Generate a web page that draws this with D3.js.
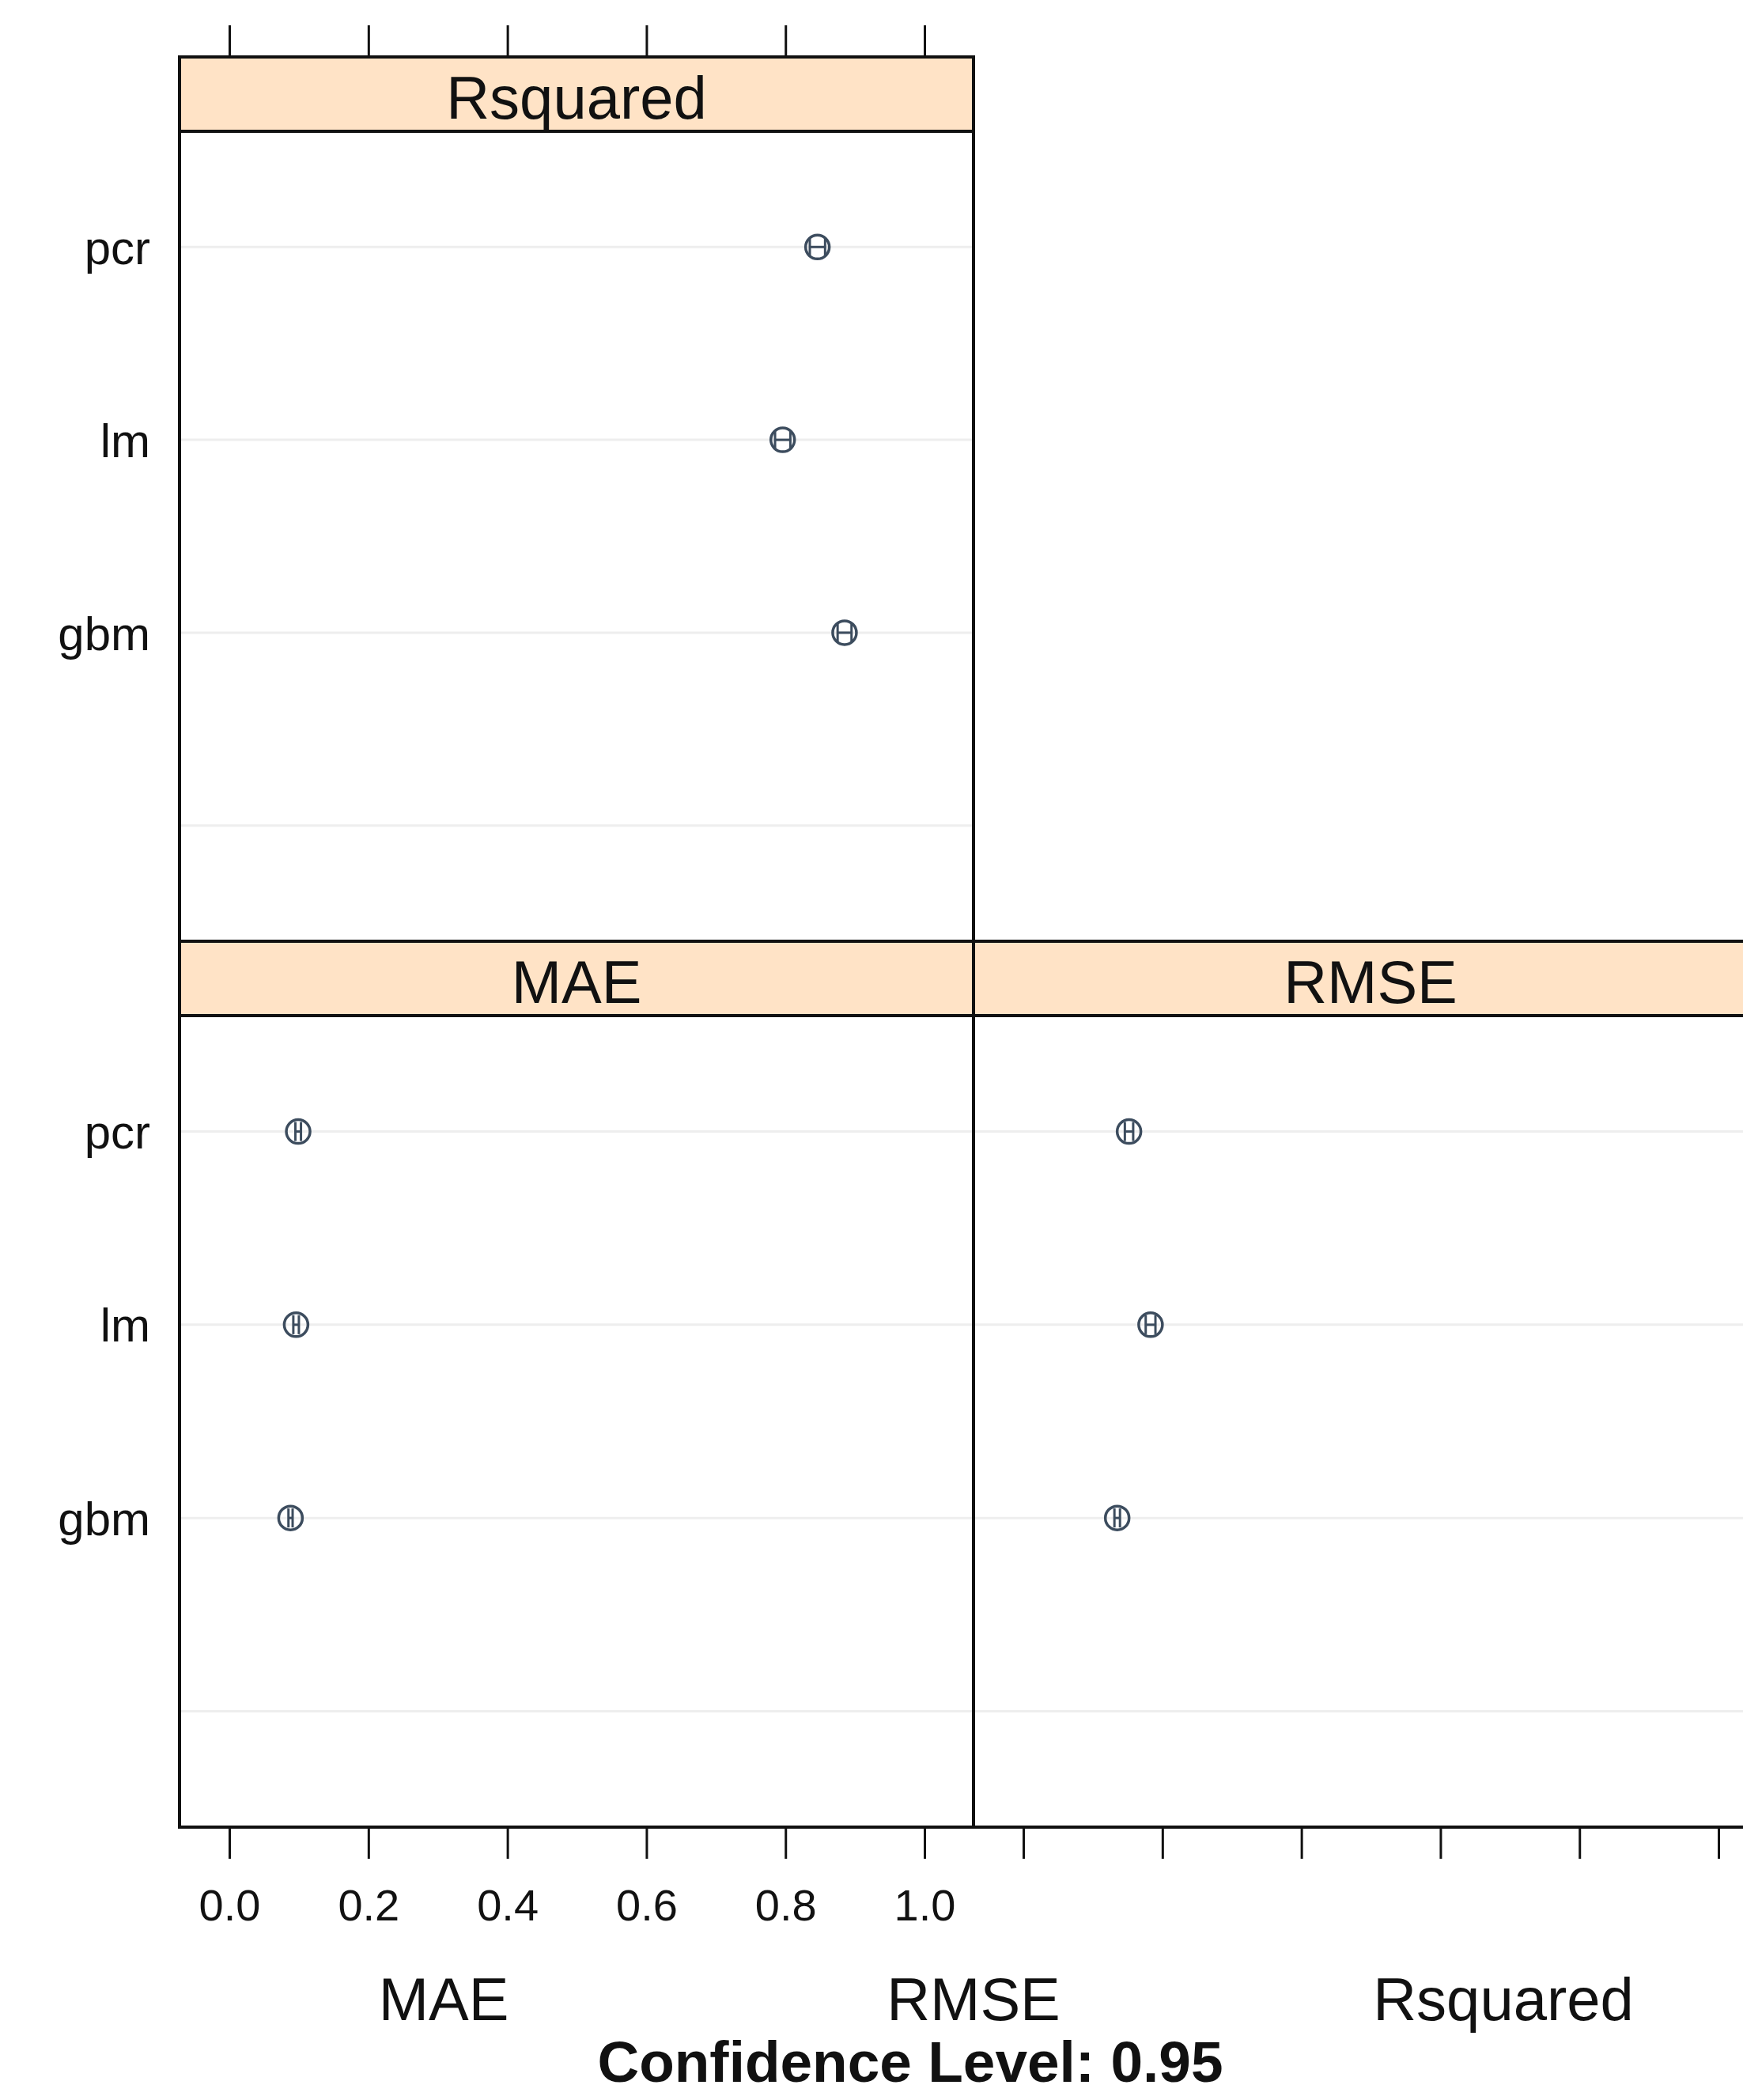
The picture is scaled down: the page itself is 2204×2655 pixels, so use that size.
<!DOCTYPE html>
<html>
<head>
<meta charset="utf-8">
<script src="https://cdn.jsdelivr.net/npm/d3@7"></script>
<style>
  html, body { margin: 0; padding: 0; background: #fff; }
  text { font-family: "Liberation Sans", Arial, Helvetica, sans-serif; fill: #111; }
</style>
</head>
<body>
<svg id="chart"></svg>
<script>
// data (median + 95% interval)
const models = ["gbm", "lm", "pcr"];
const yLevels = ["", "gbm", "lm", "pcr"]; // lowest level is empty in the original
const metricNames = ["MAE", "RMSE", "Rsquared"];
const xTicks = [0.0, 0.2, 0.4, 0.6, 0.8, 1.0];

const maeMid = [0.088, 0.096, 0.099];
const maeLow = [0.085, 0.092, 0.095];
const maeHigh = [0.091, 0.100, 0.103];

const rmseMid = [0.135, 0.183, 0.152];
const rmseLow = [0.131, 0.176, 0.146];
const rmseHigh = [0.139, 0.190, 0.158];

const rsqMid = [0.885, 0.796, 0.846];
const rsqLow = [0.875, 0.785, 0.835];
const rsqHigh = [0.895, 0.807, 0.857];

const W = 2204, H = 2655;
const ink = '#111';
const symCol = '#3c4c5e';

const svg = d3.select('#chart')
  .attr('width', W)
  .attr('height', H)
  .style('display', 'block');

// panel geometry (lattice 2x2, top-right empty)
const colX = [227, 1231];
const panelW = 1004;
const stripH = 94;
const rows = [{ top: 72, bottom: 1190 }, { top: 1190, bottom: 2310 }];

const panels = [
  { name: 'Rsquared', col: 0, row: 0, mid: rsqMid, low: rsqLow, high: rsqHigh },
  { name: 'MAE', col: 0, row: 1, mid: maeMid, low: maeLow, high: maeHigh },
  { name: 'RMSE', col: 1, row: 1, mid: rmseMid, low: rmseLow, high: rmseHigh }
];

const xDomain = [-0.0717, 1.0705];

panels.forEach(p => {
  const x0 = colX[p.col];
  const r = rows[p.row];
  const pTop = r.top + stripH;
  const x = d3.scaleLinear().domain(xDomain).range([x0, x0 + panelW]);
  const y = d3.scaleLinear().domain([0.4, yLevels.length + 0.6]).range([r.bottom, pTop]);

  const g = svg.append('g');

  // faint dot reference lines
  g.selectAll('.ref')
    .data(yLevels)
    .enter()
    .append('line')
    .attr('x1', x0).attr('x2', x0 + panelW)
    .attr('y1', (d, i) => y(i + 1)).attr('y2', (d, i) => y(i + 1))
    .attr('stroke', '#eeeeee')
    .attr('stroke-width', 3);

  const rowsData = models.map((m, i) => ({
    model: m, mid: p.mid[i], low: p.low[i], high: p.high[i], lev: yLevels.indexOf(m) + 1
  }));

  // confidence interval segments + end caps
  g.selectAll('.ci')
    .data(rowsData)
    .enter()
    .append('line')
    .attr('x1', d => x(d.low)).attr('x2', d => x(d.high))
    .attr('y1', d => y(d.lev)).attr('y2', d => y(d.lev))
    .attr('stroke', symCol).attr('stroke-width', 3);

  ['low', 'high'].forEach(k => {
    g.selectAll('.cap-' + k)
      .data(rowsData)
      .enter()
      .append('line')
      .attr('x1', d => x(d[k])).attr('x2', d => x(d[k]))
      .attr('y1', d => y(d.lev) - 12).attr('y2', d => y(d.lev) + 12)
      .attr('stroke', symCol).attr('stroke-width', 3);
  });

  g.selectAll('.pt')
    .data(rowsData)
    .enter()
    .append('circle')
    .attr('cx', d => x(d.mid))
    .attr('cy', d => y(d.lev))
    .attr('r', 15)
    .attr('fill', 'none')
    .attr('stroke', symCol)
    .attr('stroke-width', 3.5);

  // strip
  g.append('rect')
    .attr('x', x0).attr('y', r.top)
    .attr('width', panelW).attr('height', stripH)
    .attr('fill', '#ffe3c6')
    .attr('stroke', ink).attr('stroke-width', 4);

  g.append('text')
    .attr('x', x0 + panelW / 2)
    .attr('y', r.top + 78)
    .attr('text-anchor', 'middle')
    .style('font-size', '76px')
    .text(p.name);

  // panel frame
  g.append('rect')
    .attr('x', x0).attr('y', pTop)
    .attr('width', panelW).attr('height', r.bottom - pTop)
    .attr('fill', 'none')
    .attr('stroke', ink).attr('stroke-width', 4);

  // y labels only on first column
  if (p.col === 0) {
    g.selectAll('.ylab')
      .data(models)
      .enter()
      .append('text')
      .attr('x', 190)
      .attr('y', m => y(yLevels.indexOf(m) + 1))
      .attr('dy', '0.36em')
      .attr('text-anchor', 'end')
      .style('font-size', '60px')
      .text(m => m);
  }

  // bottom ticks for bottom row
  if (p.row === 1) {
    const ax = g.append('g')
      .attr('transform', `translate(0,${r.bottom})`)
      .call(d3.axisBottom(x).tickValues(xTicks).tickSize(40)
        .tickFormat(p.col === 0 ? d3.format('.1f') : ''));
    ax.select('.domain').remove();
    ax.selectAll('line').attr('stroke', ink).attr('stroke-width', 3);
    ax.selectAll('text')
      .attr('y', 0)
      .attr('dy', 0)
      .attr('transform', 'translate(0,118)')
      .style('font-size', '56px')
      .style('font-family', '"Liberation Sans", Arial, sans-serif')
      .attr('fill', ink);
  }

  // top ticks above the top row
  if (p.row === 0) {
    const ax = g.append('g')
      .attr('transform', `translate(0,${r.top})`)
      .call(d3.axisTop(x).tickValues(xTicks).tickSize(40).tickFormat(''));
    ax.select('.domain').remove();
    ax.selectAll('line').attr('stroke', ink).attr('stroke-width', 3);
  }
});

// x labels and the sub title
const labX = d3.scalePoint().domain(metricNames).range([561, 1901]);
svg.selectAll('.xlab')
  .data(metricNames)
  .enter()
  .append('text')
  .attr('x', d => labX(d))
  .attr('y', 2554)
  .attr('text-anchor', 'middle')
  .style('font-size', '76px')
  .text(d => d);

svg.append('text')
  .attr('x', 1151)
  .attr('y', 2632)
  .attr('text-anchor', 'middle')
  .style('font-size', '73px')
  .style('font-weight', 'bold')
  .text('Confidence Level: 0.95');
</script>
</body>
</html>
